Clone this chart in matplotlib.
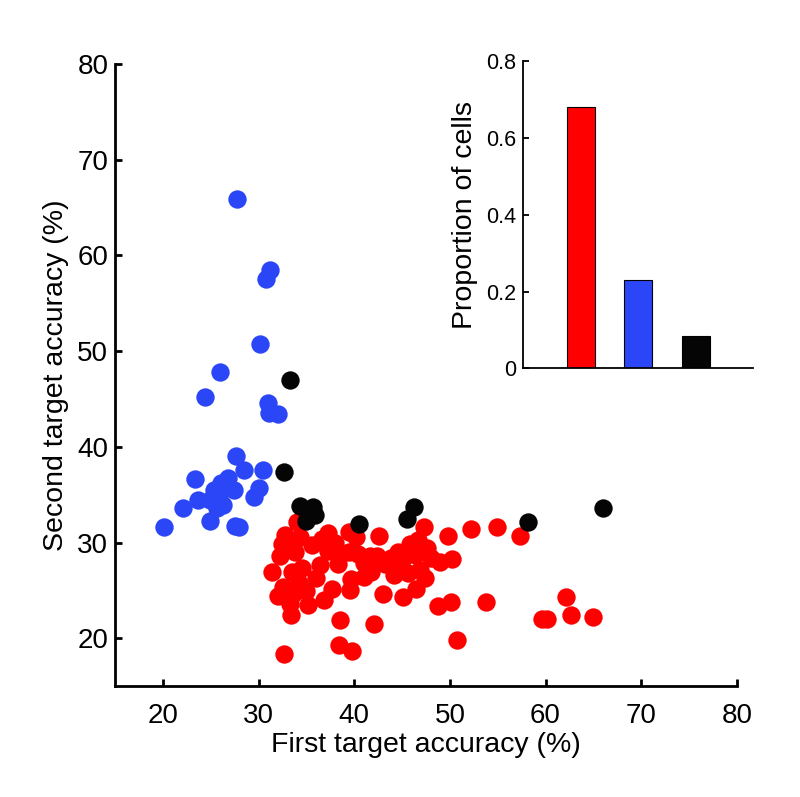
import numpy as np
import matplotlib
matplotlib.use('Agg')
import matplotlib.pyplot as plt

plt.rcParams['font.family'] = ['Liberation Sans', 'DejaVu Sans']

# first / second target accuracy (%) per cell, grouped by cell class
red_x = [34.0, 39.4, 42.6, 32.8, 37.2, 47.3, 46.7, 49.8, 52.2, 54.9, 57.3,
         32.2, 35.6, 38.0, 39.5, 44.6, 45.8, 46.4, 31.4, 33.5, 34.5, 36.4,
         38.3, 41.0, 42.4, 43.2, 49.0, 50.2, 46.9, 47.4, 32.5, 35.0, 37.7,
         39.6, 39.7, 41.0, 46.5, 43.0, 45.1, 33.3, 35.2, 33.4, 48.8, 50.1,
         53.8, 38.5, 42.1, 38.4, 39.8, 32.7, 50.7, 59.6, 60.2, 62.1, 62.7,
         65.0,
         33.0, 34.3, 33.8, 32.4, 36.6, 37.3, 40.4, 41.6, 43.8, 45.0, 47.6,
         48.0, 40.2, 32.0, 33.6, 34.2, 36.0, 38.6, 44.2, 45.6, 41.8, 36.8]
red_y = [32.2, 31.1, 30.7, 30.8, 31.0, 31.6, 30.3, 30.7, 31.4, 31.6, 30.7,
         28.6, 29.7, 30.0, 29.0, 29.0, 29.9, 28.7, 26.9, 26.9, 27.3, 27.7,
         27.8, 27.9, 28.6, 27.8, 28.0, 28.3, 27.1, 26.3, 25.4, 24.9, 25.1,
         25.0, 26.2, 26.4, 25.1, 24.6, 24.3, 23.6, 23.5, 22.4, 23.4, 23.8,
         23.8, 21.9, 21.5, 19.3, 18.7, 18.4, 19.8, 22.0, 22.0, 24.3, 22.4,
         22.2,
         30.0, 30.6, 29.0, 29.8, 30.4, 29.1, 28.8, 28.6, 28.4, 28.2, 29.4,
         28.4, 30.6, 24.4, 24.6, 25.8, 26.3, 28.8, 26.6, 26.8, 26.9, 24.0]

blue_x = [27.7, 31.2, 30.8, 30.1, 26.0, 24.4, 31.0, 31.1, 32.0,
          27.6, 28.5, 30.5, 23.3, 26.8, 26.1, 27.4, 25.3, 30.0, 29.5,
          23.7, 24.9, 25.6, 22.1, 24.9, 27.5, 27.9, 20.1, 26.3, 25.9]
blue_y = [65.9, 58.5, 57.5, 50.7, 47.8, 45.2, 44.6, 43.5, 43.4,
          39.0, 37.6, 37.6, 36.6, 36.7, 36.2, 35.5, 35.5, 35.7, 34.8,
          34.4, 34.4, 33.6, 33.6, 32.3, 31.7, 31.6, 31.6, 33.9, 35.0]

black_x = [33.3, 32.7, 34.3, 35.7, 35.9, 34.9, 40.5, 46.2, 45.5, 58.2, 66.0]
black_y = [47.0, 37.4, 33.8, 33.7, 32.9, 32.3, 31.9, 33.7, 32.5, 32.2, 33.6]

# inset: proportion of cells per class
proportions = [0.68, 0.23, 0.085]

RED = '#ff0000'
BLUE = '#2b46f7'
BLACK = '#050505'

fig = plt.figure(figsize=(8.0, 7.97), dpi=100)

ax = fig.add_axes([0.144, 0.139, 0.777, 0.781])
ms = 175
ax.scatter(blue_x, blue_y, s=ms, color=BLUE, linewidths=0, zorder=3)
ax.scatter(red_x, red_y, s=ms, color=RED, linewidths=0, zorder=3)
ax.scatter(black_x, black_y, s=ms, color=BLACK, linewidths=0, zorder=4)

ax.set_xlim(15, 80)
ax.set_ylim(15, 80)
ax.set_xticks(range(20, 81, 10))
ax.set_yticks(range(20, 81, 10))
for s in ['top', 'right']:
    ax.spines[s].set_visible(False)
for s in ['left', 'bottom']:
    ax.spines[s].set_linewidth(2.0)
ax.tick_params(direction='in', length=5, width=2.0, labelsize=20)
ax.tick_params(axis='x', pad=12)
ax.tick_params(axis='y', pad=5)
ax.set_xlabel('First target accuracy (%)', fontsize=20.5, labelpad=2)
ax.set_ylabel('Second target accuracy (%)', fontsize=20.5, labelpad=6)

# inset bar chart
ins = fig.add_axes([0.654, 0.538, 0.2875, 0.385])
ins.bar([1, 2, 3], proportions, width=0.48, color=[RED, BLUE, BLACK],
        edgecolor='black', linewidth=0.8)
ins.set_xlim(0, 4)
ins.set_ylim(0, 0.8)
ins.set_xticks([])
ins.set_yticks([0, 0.2, 0.4, 0.6, 0.8])
ins.set_yticklabels(['0', '0.2', '0.4', '0.6', '0.8'])
for s in ['top', 'right']:
    ins.spines[s].set_visible(False)
for s in ['left', 'bottom']:
    ins.spines[s].set_linewidth(1.3)
ins.tick_params(direction='in', length=4, width=1.3, labelsize=15.5, pad=5)
ins.set_ylabel('Proportion of cells', fontsize=20.5, labelpad=6)

fig.savefig('out.png', dpi=100, facecolor='white')
